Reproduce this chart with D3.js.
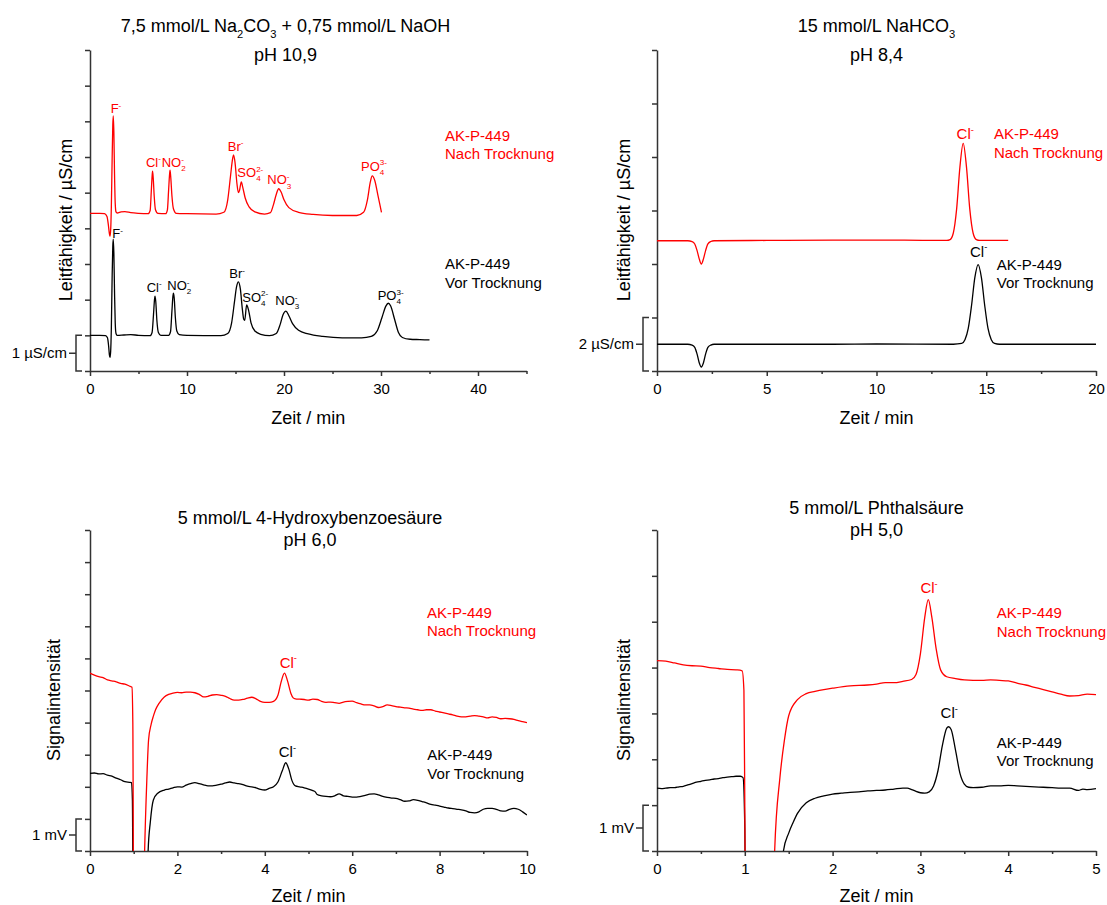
<!DOCTYPE html>
<html><head><meta charset="utf-8">
<script src="https://cdn.jsdelivr.net/npm/d3@7"></script>
<style>body{margin:0;background:#fff}svg{display:block}text{font-family:Arial,"Liberation Sans",sans-serif}</style>
</head><body><svg id="c" width="1107" height="905"></svg>
<script>
// ---------- DATA ----------
// Panel 1: 7,5 mmol/L Na2CO3 + 0,75 mmol/L NaOH  (time min, conductivity µS/cm, offset)
const TL_BLACK = [[0,1.00],[1.0,1.00],[1.6,0.99],[1.8,0.93],[1.92,0.70],[2.0,0.45],[2.06,0.38],[2.13,0.55],[2.2,1.2],[2.28,2.6],[2.35,3.5],[2.4,3.7],[2.46,3.3],[2.53,2.2],[2.6,1.35],[2.68,1.05],[2.8,1.00],[3.5,1.01],[4.2,1.02],[5.0,1.00],[6.2,0.99],[6.4,1.08],[6.55,1.6],[6.65,2.0],[6.7,2.1],[6.78,1.95],[6.9,1.4],[7.05,1.08],[7.3,1.00],[8.1,1.00],[8.3,1.1],[8.45,1.7],[8.55,2.1],[8.6,2.18],[8.68,2.05],[8.8,1.5],[8.95,1.12],[9.2,1.02],[10,1.0],[13.5,0.99],[14.2,1.05],[14.6,1.35],[14.9,1.95],[15.1,2.35],[15.3,2.5],[15.5,2.3],[15.7,1.75],[15.85,1.45],[15.95,1.42],[16.15,1.85],[16.35,1.7],[16.6,1.35],[17.0,1.12],[17.6,1.03],[18.5,0.99],[19.2,1.05],[19.6,1.3],[19.9,1.58],[20.2,1.68],[20.5,1.55],[20.9,1.32],[21.5,1.14],[22.5,1.04],[24,0.97],[26,0.93],[28,0.93],[29.0,0.97],[29.6,1.12],[30.1,1.5],[30.5,1.82],[30.75,1.9],[31.0,1.82],[31.4,1.45],[31.8,1.08],[32.2,0.94],[33,0.89],[34,0.88],[35,0.87]];
const TL_RED = [[0,4.42],[1.0,4.42],[1.5,4.41],[1.75,4.33],[1.9,4.08],[2.0,3.85],[2.06,3.78],[2.13,3.95],[2.2,4.6],[2.28,5.9],[2.35,6.9],[2.4,7.15],[2.46,6.7],[2.53,5.5],[2.6,4.7],[2.68,4.46],[2.8,4.43],[3.2,4.46],[3.6,4.47],[4.2,4.44],[5.0,4.42],[6.0,4.41],[6.2,4.5],[6.32,5.05],[6.4,5.45],[6.45,5.6],[6.52,5.4],[6.62,4.9],[6.75,4.52],[7.0,4.42],[7.8,4.41],[7.98,4.52],[8.1,5.05],[8.2,5.5],[8.25,5.63],[8.32,5.45],[8.45,4.9],[8.6,4.55],[8.9,4.42],[10,4.41],[13,4.40],[13.8,4.45],[14.2,4.8],[14.5,5.5],[14.7,5.95],[14.8,6.06],[14.95,5.85],[15.15,5.25],[15.3,5.0],[15.4,5.05],[15.6,5.3],[15.75,5.15],[16.0,4.85],[16.4,4.6],[17.0,4.46],[18.0,4.4],[18.6,4.44],[18.9,4.65],[19.2,4.95],[19.45,5.11],[19.7,5.02],[20.0,4.8],[20.5,4.58],[21.5,4.45],[23,4.39],[25,4.36],[27.5,4.36],[28.2,4.45],[28.6,4.8],[28.9,5.3],[29.1,5.47],[29.35,5.35],[29.7,4.9],[30.05,4.45]];

// Panel 2: 15 mmol/L NaHCO3
const TR_BLACK = [[0,1.0],[1.4,1.0],[1.6,0.97],[1.72,0.885],[1.82,0.65],[1.92,0.32],[2.02,0.15],[2.12,0.32],[2.22,0.65],[2.32,0.885],[2.45,0.97],[2.6,1.0],[5,1.0],[8,1.0],[10,1.01],[13.5,1.0],[13.88,1.03],[14.03,1.17],[14.18,1.59],[14.33,2.45],[14.48,3.49],[14.63,3.98],[14.78,3.49],[14.93,2.45],[15.08,1.59],[15.23,1.17],[15.38,1.03],[15.6,1.0],[17,1.0],[20,1.0]];
const TR_RED = [[0,4.87],[1.4,4.87],[1.6,4.84],[1.72,4.75],[1.82,4.52],[1.92,4.2],[2.02,4.0],[2.12,4.2],[2.22,4.52],[2.32,4.75],[2.45,4.84],[2.6,4.87],[5,4.88],[8,4.89],[11,4.89],[13.2,4.88],[13.35,4.91],[13.5,5.16],[13.65,6.05],[13.8,7.62],[13.95,8.51],[14.1,7.62],[14.25,6.05],[14.4,5.16],[14.55,4.91],[14.7,4.88],[16,4.88]];

// Panel 3: 5 mmol/L 4-Hydroxybenzoesäure (time min, signal mV, offset)
const BL_BLACK = [[0,2.42],[0.1,2.43],[0.2,2.40],[0.3,2.41],[0.4,2.36],[0.5,2.33],[0.6,2.27],[0.7,2.22],[0.8,2.16],[0.9,2.14],[0.95,2.13],[0.97,1.6],[0.99,-2],[1.30,-2],[1.33,0],[1.38,0.9],[1.45,1.59],[1.55,1.8],[1.7,1.9],[1.8,1.93],[1.9,1.97],[2.0,2.0],[2.1,1.99],[2.2,2.05],[2.3,2.1],[2.4,2.13],[2.5,2.1],[2.6,2.06],[2.7,2.03],[2.8,2.03],[2.9,2.05],[3.0,2.08],[3.1,2.12],[3.2,2.15],[3.3,2.12],[3.4,2.1],[3.5,2.07],[3.6,2.02],[3.7,2.0],[3.8,1.97],[3.9,1.92],[4.0,1.9],[4.1,1.95],[4.2,2.0],[4.3,2.15],[4.4,2.5],[4.48,2.75],[4.55,2.55],[4.62,2.2],[4.7,2.03],[4.8,2.0],[4.9,1.97],[5.0,1.93],[5.1,1.88],[5.15,1.85],[5.2,1.76],[5.3,1.72],[5.4,1.7],[5.5,1.69],[5.6,1.72],[5.7,1.78],[5.8,1.72],[5.9,1.7],[6.0,1.68],[6.1,1.68],[6.2,1.7],[6.3,1.73],[6.4,1.77],[6.5,1.78],[6.6,1.75],[6.7,1.7],[6.8,1.67],[6.9,1.65],[7.0,1.64],[7.1,1.6],[7.2,1.55],[7.3,1.56],[7.4,1.6],[7.5,1.58],[7.6,1.54],[7.7,1.5],[7.8,1.45],[7.9,1.43],[8.0,1.4],[8.1,1.37],[8.2,1.34],[8.3,1.32],[8.4,1.3],[8.5,1.28],[8.6,1.25],[8.7,1.2],[8.8,1.19],[8.9,1.22],[9.0,1.3],[9.1,1.33],[9.2,1.33],[9.3,1.3],[9.4,1.25],[9.5,1.24],[9.6,1.3],[9.7,1.33],[9.8,1.3],[9.9,1.22],[10.0,1.12]];
const BL_RED = [[0,5.54],[0.1,5.48],[0.2,5.43],[0.3,5.4],[0.4,5.33],[0.5,5.3],[0.6,5.27],[0.7,5.22],[0.8,5.2],[0.9,5.14],[0.96,5.1],[0.98,4.0],[1.0,-2],[1.22,-2],[1.25,0],[1.3,2.2],[1.34,3.46],[1.4,3.95],[1.45,4.2],[1.5,4.4],[1.58,4.6],[1.7,4.8],[1.8,4.88],[1.9,4.92],[2.0,4.94],[2.1,4.93],[2.2,4.95],[2.3,4.95],[2.4,4.93],[2.5,4.88],[2.6,4.8],[2.7,4.82],[2.8,4.86],[2.9,4.87],[3.0,4.85],[3.1,4.82],[3.2,4.75],[3.3,4.7],[3.4,4.7],[3.5,4.72],[3.6,4.76],[3.7,4.79],[3.8,4.74],[3.9,4.66],[4.0,4.63],[4.1,4.63],[4.2,4.66],[4.3,4.85],[4.38,5.3],[4.45,5.54],[4.52,5.3],[4.6,4.9],[4.65,4.77],[4.7,4.74],[4.8,4.73],[4.9,4.72],[5.0,4.7],[5.1,4.73],[5.2,4.72],[5.3,4.66],[5.4,4.63],[5.5,4.64],[5.6,4.62],[5.7,4.6],[5.8,4.64],[5.9,4.66],[6.0,4.67],[6.1,4.62],[6.2,4.58],[6.3,4.55],[6.4,4.55],[6.5,4.52],[6.6,4.47],[6.7,4.5],[6.8,4.55],[6.9,4.53],[7.0,4.5],[7.1,4.48],[7.2,4.46],[7.3,4.45],[7.4,4.42],[7.5,4.4],[7.6,4.38],[7.7,4.4],[7.8,4.4],[7.9,4.36],[8.0,4.33],[8.1,4.3],[8.2,4.27],[8.3,4.24],[8.4,4.2],[8.5,4.18],[8.6,4.18],[8.7,4.2],[8.8,4.22],[8.9,4.2],[9.0,4.18],[9.1,4.15],[9.2,4.18],[9.3,4.16],[9.4,4.12],[9.5,4.13],[9.6,4.12],[9.7,4.1],[9.8,4.06],[9.9,4.03],[10.0,4.0]];

// Panel 4: 5 mmol/L Phthalsäure
const BR_BLACK = [[0,1.37],[0.05,1.36],[0.1,1.37],[0.15,1.38],[0.2,1.38],[0.25,1.4],[0.3,1.41],[0.35,1.44],[0.4,1.47],[0.45,1.5],[0.5,1.52],[0.55,1.54],[0.6,1.55],[0.65,1.57],[0.7,1.58],[0.75,1.6],[0.8,1.61],[0.85,1.62],[0.9,1.63],[0.95,1.63],[0.98,1.6],[1.0,0.5],[1.01,-2],[1.4,-2],[1.44,0],[1.5,0.39],[1.55,0.62],[1.6,0.82],[1.7,1.05],[1.8,1.15],[1.9,1.2],[2.0,1.24],[2.1,1.26],[2.2,1.28],[2.3,1.29],[2.4,1.31],[2.5,1.32],[2.6,1.33],[2.7,1.35],[2.8,1.37],[2.85,1.37],[2.9,1.34],[2.95,1.3],[3.0,1.27],[3.05,1.26],[3.1,1.29],[3.15,1.42],[3.2,1.75],[3.25,2.3],[3.3,2.68],[3.32,2.71],[3.35,2.65],[3.4,2.2],[3.45,1.7],[3.5,1.46],[3.55,1.39],[3.6,1.38],[3.7,1.39],[3.8,1.42],[3.9,1.42],[4.0,1.43],[4.1,1.42],[4.2,1.41],[4.3,1.4],[4.4,1.39],[4.5,1.38],[4.6,1.37],[4.7,1.37],[4.8,1.32],[4.85,1.35],[4.9,1.34],[5.0,1.36]];
const BR_RED = [[0,4.15],[0.1,4.14],[0.2,4.1],[0.3,4.06],[0.4,4.04],[0.5,4.03],[0.6,4.0],[0.7,3.98],[0.8,3.96],[0.9,3.95],[0.97,3.93],[0.99,3.5],[1.0,1.0],[1.01,-2],[1.31,-2],[1.34,0],[1.4,1.6],[1.45,2.4],[1.5,2.95],[1.6,3.3],[1.7,3.43],[1.8,3.48],[1.9,3.52],[2.0,3.55],[2.2,3.6],[2.4,3.62],[2.5,3.64],[2.6,3.67],[2.7,3.67],[2.8,3.7],[2.9,3.74],[2.95,3.85],[3.0,4.3],[3.05,5.1],[3.09,5.48],[3.13,5.1],[3.18,4.4],[3.23,3.95],[3.3,3.8],[3.4,3.76],[3.5,3.73],[3.6,3.72],[3.7,3.72],[3.8,3.73],[3.9,3.72],[4.0,3.71],[4.1,3.66],[4.2,3.62],[4.3,3.57],[4.4,3.52],[4.5,3.47],[4.6,3.42],[4.7,3.38],[4.8,3.39],[4.9,3.42],[5.0,3.41]];

// Tick values
const TL_XMAJOR = [0,10,20,30,40], TL_XMINOR = [5,15,25,35,45], TL_YTICKS = [0,1,2,3,4,5,6,7,8,9];
const TR_XMAJOR = [0,5,10,15,20], TR_XMINOR = [2.5,7.5,12.5,17.5], TR_YTICKS = [0,2,4,6,8,10,12];
const BL_XMAJOR = [0,2,4,6,8,10], BL_XMINOR = [1,3,5,7,9], BL_YTICKS = [0,1,2,3,4,5,6,7,8,9,10];
const BR_XMAJOR = [0,1,2,3,4,5], BR_XMINOR = [0.5,1.5,2.5,3.5,4.5], BR_YTICKS = [0,1,2,3,4,5,6,7];

// Peak annotations (text, time, value)
const TL_RED_LABELS = [["F^{-}",2.13,7.22],["Cl^{-}",5.77,5.73],["NO_{2}^{-}",7.39,5.72],["Br^{-}",14.2,6.17],["SO_{4}^{2-}",15.19,5.43],["NO_{3}^{-}",18.28,5.23],["PO_{4}^{3-}",27.94,5.62]];
const TL_BLACK_LABELS = [["F^{-}",2.3,3.72],["Cl^{-}",5.85,2.22],["NO_{2}^{-}",7.97,2.27],["Br^{-}",14.36,2.6],["SO_{4}^{2-}",15.7,1.94],["NO_{3}^{-}",19.1,1.85],["PO_{4}^{3-}",29.66,1.99]];
const TR_RED_LABELS = [["Cl^{-}",13.65,8.66]], TR_BLACK_LABELS = [["Cl^{-}",14.26,4.27]];
const BL_RED_LABELS = [["Cl^{-}",4.34,5.71]], BL_BLACK_LABELS = [["Cl^{-}",4.32,2.92]];
const BR_RED_LABELS = [["Cl^{-}",3.0,5.62]], BR_BLACK_LABELS = [["Cl^{-}",3.23,2.89]];

// Legend texts
const SAMPLE = "AK-P-449", RED_STATE = "Nach Trocknung", BLACK_STATE = "Vor Trocknung";

// ---------- DRAWING ----------
const svg = d3.select("#c");
const RED = "#ff0000", AX = "#333";

function rich(g, str, x, y, fs, color, anchor) {
  const t = g.append("text").attr("x", x).attr("y", y).attr("font-size", fs).attr("fill", color).attr("text-anchor", anchor || "start");
  const re = /_\{([^}]*)\}|\^\{([^}]*)\}|([^_^]+)/g;
  let m, shift = 0, lastSub = null;
  while ((m = re.exec(str))) {
    if (m[1] !== undefined) {
      const target = 0.32 * fs;
      lastSub = t.append("tspan").text(m[1]).attr("font-size", fs * 0.62).attr("dy", target - shift);
      shift = target;
    } else if (m[2] !== undefined) {
      const target = -0.42 * fs;
      const ts = t.append("tspan").text(m[2]).attr("font-size", fs * 0.62).attr("dy", target - shift);
      if (lastSub) ts.attr("dx", -lastSub.node().getComputedTextLength());
      shift = target; lastSub = null;
    } else {
      t.append("tspan").text(m[3]).attr("dy", -shift);
      shift = 0; lastSub = null;
    }
  }
  return t;
}

function panel(c) {
  const x = d3.scaleLinear().domain(c.xdom).range([c.left, c.right]);
  const y = d3.scaleLinear().domain(c.ydom).range([c.bottom, c.top]);
  const g = svg.append("g");
  const clipId = "clip" + c.id;
  svg.append("clipPath").attr("id", clipId).append("rect")
    .attr("x", c.left).attr("y", c.top).attr("width", c.right - c.left).attr("height", c.bottom - c.top);

  const xa = g.append("g").attr("transform", `translate(0,${c.bottom})`)
    .call(d3.axisBottom(x).tickValues(c.xMajor).tickSize(5).tickSizeOuter(0).tickPadding(7).tickFormat(d3.format("~g")));
  const xm = g.append("g").attr("transform", `translate(0,${c.bottom})`)
    .call(d3.axisBottom(x).tickValues(c.xMinor).tickSize(3).tickSizeOuter(0).tickFormat(""));
  xm.select(".domain").remove();
  const ya = g.append("g").attr("transform", `translate(${c.left},0)`)
    .call(d3.axisLeft(y).tickValues(c.yTicks).tickSize(5).tickSizeOuter(0).tickFormat(""));
  [xa, xm, ya].forEach(a => {
    a.selectAll("path,line").attr("stroke", AX).attr("stroke-width", 1.5);
    a.selectAll("text").attr("font-size", 15).attr("fill", "#000").attr("font-family", "Arial, 'Liberation Sans', sans-serif");
  });

  const line = d3.line().x(d => x(d[0])).y(d => y(d[1])).curve(d3.curveMonotoneX);
  c.traces.forEach(tr => g.append("path").datum(tr.data).attr("d", line)
    .attr("fill", "none").attr("stroke", tr.color).attr("stroke-width", 1.3)
    .attr("stroke-linejoin", "round").attr("clip-path", `url(#${clipId})`));

  c.labels.forEach(L => L.items.forEach(d => rich(g, d[0], x(d[1]), y(d[2]), c.peakFs, L.color)));

  c.legends.forEach(L => {
    g.append("text").attr("x", x(L.t)).attr("y", y(L.v)).attr("font-size", 15).attr("fill", L.color).text(SAMPLE);
    g.append("text").attr("x", x(L.t)).attr("y", y(L.v) + 18.5).attr("font-size", 15).attr("fill", L.color).text(L.state);
  });

  const bx = c.left - 14, yt = y(c.scale[1]), yb = y(c.scale[0]), ym = (yt + yb) / 2;
  g.append("path").attr("d", `M${bx + 6},${yt}H${bx}V${yb}H${bx + 6}M${bx},${ym}H${bx - 7}`)
    .attr("fill", "none").attr("stroke", AX).attr("stroke-width", 1.5);
  g.append("text").attr("x", bx - 9).attr("y", ym + 5).attr("text-anchor", "end").attr("font-size", 15).text(c.scaleLabel);

  c.title.forEach((t, i) => rich(g, t, c.titleX, c.titleY[i], 18, "#000", "middle"));
  g.append("text").attr("x", (c.left + c.right) / 2).attr("y", c.xLabelY).attr("text-anchor", "middle").attr("font-size", 18).text("Zeit / min");
  g.append("text").attr("transform", `translate(${c.yLabelX},${c.yLabelY}) rotate(-90)`).attr("text-anchor", "middle").attr("font-size", 18).text(c.yLabel);
}

panel({id: 1, left: 90, right: 526.5, top: 50, bottom: 371, xdom: [0, 45], ydom: [0, 9],
  xMajor: TL_XMAJOR, xMinor: TL_XMINOR, yTicks: TL_YTICKS,
  traces: [{data: TL_BLACK, color: "#000"}, {data: TL_RED, color: RED}],
  labels: [{items: TL_RED_LABELS, color: RED}, {items: TL_BLACK_LABELS, color: "#000"}], peakFs: 13,
  legends: [{t: 36.6, v: 6.45, color: RED, state: RED_STATE}, {t: 36.6, v: 2.85, color: "#000", state: BLACK_STATE}],
  scale: [0, 1], scaleLabel: "1 µS/cm",
  title: ["7,5 mmol/L Na_{2}CO_{3} + 0,75 mmol/L NaOH", "pH 10,9"], titleX: 285.5, titleY: [32, 61], xLabelY: 424,
  yLabel: "Leitfähigkeit / µS/cm", yLabelX: 72, yLabelY: 220});

panel({id: 2, left: 657, right: 1096, top: 50, bottom: 371, xdom: [0, 20], ydom: [0, 12],
  xMajor: TR_XMAJOR, xMinor: TR_XMINOR, yTicks: TR_YTICKS,
  traces: [{data: TR_BLACK, color: "#000"}, {data: TR_RED, color: RED}],
  labels: [{items: TR_RED_LABELS, color: RED}, {items: TR_BLACK_LABELS, color: "#000"}], peakFs: 15,
  legends: [{t: 15.35, v: 8.66, color: RED, state: RED_STATE}, {t: 15.48, v: 3.78, color: "#000", state: BLACK_STATE}],
  scale: [0, 2], scaleLabel: "2 µS/cm",
  title: ["15 mmol/L NaHCO_{3}", "pH 8,4"], titleX: 876.5, titleY: [32, 61], xLabelY: 424,
  yLabel: "Leitfähigkeit / µS/cm", yLabelX: 630, yLabelY: 220});

panel({id: 3, left: 90, right: 527, top: 530, bottom: 851, xdom: [0, 10], ydom: [0, 10],
  xMajor: BL_XMAJOR, xMinor: BL_XMINOR, yTicks: BL_YTICKS,
  traces: [{data: BL_BLACK, color: "#000"}, {data: BL_RED, color: RED}],
  labels: [{items: BL_RED_LABELS, color: RED}, {items: BL_BLACK_LABELS, color: "#000"}], peakFs: 15,
  legends: [{t: 7.71, v: 7.27, color: RED, state: RED_STATE}, {t: 7.72, v: 2.83, color: "#000", state: BLACK_STATE}],
  scale: [0, 1], scaleLabel: "1 mV",
  title: ["5 mmol/L 4-Hydroxybenzoesäure", "pH 6,0"], titleX: 310, titleY: [523.5, 546], xLabelY: 902,
  yLabel: "Signalintensität", yLabelX: 60, yLabelY: 700});

panel({id: 4, left: 657, right: 1096, top: 530, bottom: 851, xdom: [0, 5], ydom: [0, 7],
  xMajor: BR_XMAJOR, xMinor: BR_XMINOR, yTicks: BR_YTICKS,
  traces: [{data: BR_BLACK, color: "#000"}, {data: BR_RED, color: RED}],
  labels: [{items: BR_RED_LABELS, color: RED}, {items: BR_BLACK_LABELS, color: "#000"}], peakFs: 15,
  legends: [{t: 3.87, v: 5.08, color: RED, state: RED_STATE}, {t: 3.87, v: 2.25, color: "#000", state: BLACK_STATE}],
  scale: [0, 1], scaleLabel: "1 mV",
  title: ["5 mmol/L Phthalsäure", "pH 5,0"], titleX: 876.5, titleY: [514, 536], xLabelY: 902,
  yLabel: "Signalintensität", yLabelX: 629.5, yLabelY: 700});
</script></body></html>
